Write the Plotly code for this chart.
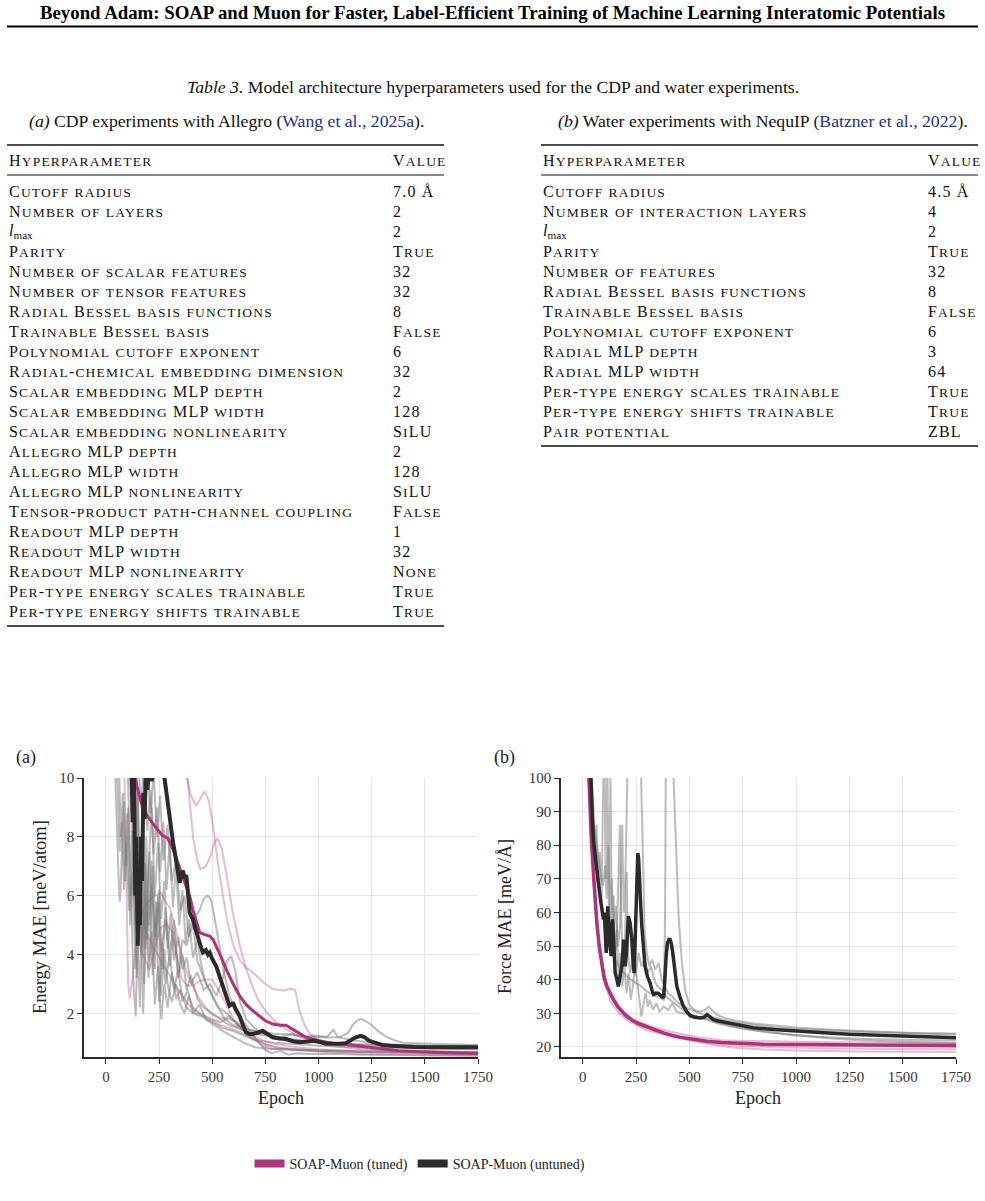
import plotly.graph_objects as go

W, H = 985, 1201
def px(x): return x / W
def py(y): return 1 - y / H

# ---------------- Table data ----------------
tab_a_params = ["Cutoff radius", "Number of layers", "LMAX", "Parity", "Number of scalar features",
                "Number of tensor features", "Radial Bessel basis functions", "Trainable Bessel basis",
                "Polynomial cutoff exponent", "Radial-chemical embedding dimension",
                "Scalar embedding MLP depth", "Scalar embedding MLP width", "Scalar embedding nonlinearity",
                "Allegro MLP depth", "Allegro MLP width", "Allegro MLP nonlinearity",
                "Tensor-product path-channel coupling", "Readout MLP depth", "Readout MLP width",
                "Readout MLP nonlinearity", "Per-type energy scales trainable", "Per-type energy shifts trainable"]
tab_a_values = ["7.0 Å", "2", "2", "True", "32", "32", "8", "False", "6", "32", "2", "128", "SiLU",
                "2", "128", "SiLU", "False", "1", "32", "None", "True", "True"]
tab_b_params = ["Cutoff radius", "Number of interaction layers", "LMAX", "Parity", "Number of features",
                "Radial Bessel basis functions", "Trainable Bessel basis", "Polynomial cutoff exponent",
                "Radial MLP depth", "Radial MLP width", "Per-type energy scales trainable",
                "Per-type energy shifts trainable", "Pair potential"]
tab_b_values = ["4.5 Å", "4", "2", "True", "32", "8", "False", "6", "3", "64", "True", "True", "ZBL"]

# ---------------- Chart (a): Energy MAE [meV/atom] vs epoch ----------------
a_tuned = [(125, 11), (135, 10.2), (145, 9.75), (165, 9.2), (190, 8.76), (215, 8.5), (237, 8.3), (265, 8.05),
           (292, 7.95), (316, 7.57), (335, 7.2), (355, 6.78), (375, 6.4), (394, 5.99), (410, 5.5), (425, 5.1),
           (441, 4.75), (465, 4.68), (488, 4.63), (505, 4.5), (519, 4.29), (540, 3.95), (566, 3.5), (595, 3.05),
           (628, 2.6), (660, 2.3), (690, 2.1), (722, 1.92), (750, 1.75), (784, 1.64), (820, 1.6), (847, 1.6),
           (870, 1.5), (894, 1.41), (920, 1.28), (941, 1.19), (1000, 1.07), (1066, 0.99), (1150, 0.93),
           (1222, 0.88), (1300, 0.8), (1378, 0.73), (1450, 0.7), (1534, 0.68), (1650, 0.66), (1750, 0.64)]
a_untuned = [(118, 11), (126, 8.5), (132, 10.0), (138, 6.0), (142, 8.0), (146, 4.5), (150, 4.3), (155, 6.5),
             (160, 5.0), (165, 8.0), (170, 6.5), (176, 9.5), (182, 8.6), (188, 10.2), (195, 9.6), (205, 10.5),
             (215, 9.9), (230, 10.3), (250, 10.6), (270, 10.3),
             (284, 9.5), (292, 8.9), (300, 8.47), (308, 8.1), (316, 7.8), (328, 7.3), (339, 6.9), (347, 6.44),
             (355, 6.7), (362, 6.85), (370, 6.6), (378, 6.7), (386, 6.1), (394, 5.42), (402, 5.3), (409, 5.2),
             (418, 4.95), (425, 4.75), (433, 4.63), (445, 4.3), (456, 4.07), (470, 4.15), (480, 4.0), (488, 4.07),
             (500, 3.85), (519, 3.6), (535, 3.25), (550, 2.94), (565, 2.6), (581, 2.26), (590, 2.3), (597, 2.37),
             (610, 2.15), (628, 1.92), (645, 1.6), (659, 1.36), (675, 1.3), (691, 1.3), (715, 1.35), (737, 1.41),
             (760, 1.3), (784, 1.19), (815, 1.15), (847, 1.13), (880, 1.05), (909, 1.02), (950, 1.05), (988, 1.07),
             (1030, 0.98), (1066, 0.96), (1100, 0.97), (1128, 0.99), (1150, 1.08), (1175, 1.19), (1198, 1.24),
             (1215, 1.2), (1238, 1.07), (1270, 0.98), (1300, 0.93), (1340, 0.9), (1378, 0.88), (1450, 0.86),
             (1534, 0.85), (1650, 0.85), (1750, 0.85)]
a_pink1 = [(360, 11), (380, 10.0), (400, 9.4), (425, 9.05), (445, 9.3), (465, 9.55), (485, 9.2), (505, 8.3),
           (525, 7.2), (550, 6.0), (575, 5.0), (600, 4.3), (630, 3.8), (660, 3.55), (690, 3.4), (720, 3.2),
           (750, 3.0), (780, 2.85), (810, 2.8), (840, 2.78), (870, 2.85), (890, 2.8), (910, 2.1), (935, 1.6),
           (960, 1.3), (1000, 1.1), (1100, 0.92), (1250, 0.8), (1400, 0.74), (1600, 0.7), (1750, 0.68)]
a_pink2 = [(375, 11), (390, 9.5), (410, 8.0), (430, 7.2), (445, 6.9), (470, 7.0), (490, 7.3), (510, 7.8),
           (525, 7.95), (545, 7.6), (570, 6.6), (600, 5.3), (630, 4.3), (660, 3.5), (690, 2.9), (720, 2.4),
           (760, 2.0), (800, 1.7), (850, 1.45), (900, 1.25), (950, 1.1), (1050, 0.9), (1200, 0.78), (1400, 0.72),
           (1750, 0.66)]
a_pink3 = [(85, 11), (95, 6.5), (105, 3.0), (112, 2.5), (125, 3.2), (145, 4.5), (170, 5.5), (200, 5.8),
           (230, 6.0), (260, 6.1), (280, 5.8), (300, 5.6), (320, 5.1), (350, 4.2), (380, 3.4), (410, 2.9),
           (440, 2.5), (470, 2.2), (500, 1.95), (540, 1.85), (580, 1.8), (620, 1.7), (660, 1.4), (700, 1.2),
           (750, 1.05), (800, 0.95), (900, 0.85), (1000, 0.78), (1200, 0.7), (1500, 0.65), (1750, 0.62)]
a_pink4 = [(110, 11), (125, 7.5), (140, 5.0), (160, 4.2), (180, 3.9), (205, 3.5), (230, 4.2), (255, 4.9),
           (285, 5.05), (310, 4.8), (335, 3.9), (355, 3.2), (380, 2.95), (410, 2.95), (440, 3.1), (470, 3.15),
           (500, 3.15), (530, 2.8), (560, 2.4), (600, 1.8), (640, 1.5), (690, 1.2), (750, 0.95), (820, 0.82),
           (900, 0.75), (1000, 0.7), (1200, 0.62), (1500, 0.57), (1750, 0.55)]
a_pink5 = [(140, 11), (150, 8.0), (165, 6.0), (180, 5.0), (200, 4.6), (220, 4.3), (245, 4.0), (270, 3.6),
           (300, 3.3), (330, 2.9), (360, 2.6), (390, 2.3), (420, 2.05), (460, 1.9), (500, 1.75), (540, 1.6),
           (580, 1.5), (620, 1.4), (660, 1.25), (700, 1.1), (750, 0.95), (800, 0.85), (900, 0.78), (1000, 0.73),
           (1200, 0.68), (1500, 0.64), (1750, 0.62)]
a_gray1 = [(45, 11), (55, 9.8), (65, 7.5), (75, 8.5), (85, 6.2), (95, 7.8), (110, 5.5), (125, 6.8), (140, 3.5),
           (155, 6.0), (170, 4.2), (185, 7.1), (200, 5.0), (215, 6.4), (230, 4.6), (245, 5.8), (260, 4.1),
           (280, 5.2), (300, 3.6), (320, 4.8), (340, 3.2), (360, 4.0), (380, 2.8), (400, 3.3), (430, 2.5),
           (460, 2.2), (500, 2.0), (540, 1.8), (580, 1.6), (620, 1.5), (660, 1.45), (700, 1.4), (750, 1.35),
           (800, 1.3), (850, 1.3), (900, 1.25), (950, 1.2), (1000, 1.2), (1050, 1.18), (1100, 1.2), (1140, 1.35),
           (1160, 1.6), (1180, 1.75), (1200, 1.82), (1220, 1.75), (1250, 1.6), (1280, 1.4), (1320, 1.2),
           (1360, 1.08), (1400, 1.0), (1500, 0.97), (1600, 0.95), (1750, 0.93)]
a_gray2 = [(60, 11), (70, 8.0), (80, 9.5), (90, 6.5), (100, 8.8), (115, 5.0), (130, 7.5), (145, 3.2), (160, 6.8),
           (175, 2.0), (190, 5.5), (205, 3.8), (220, 7.0), (235, 4.5), (250, 6.2), (265, 3.5), (280, 5.6),
           (300, 4.0), (320, 5.2), (340, 3.4), (360, 4.5), (380, 4.3), (400, 5.0), (420, 5.3), (440, 5.5),
           (460, 5.9), (480, 6.0), (495, 5.85), (510, 5.3), (530, 4.5), (555, 3.4), (580, 2.6), (610, 2.1),
           (640, 1.8), (680, 1.4), (720, 1.0), (750, 0.75), (780, 0.65), (820, 0.72), (860, 0.6), (900, 0.65),
           (950, 0.62), (1050, 0.63), (1200, 0.6), (1400, 0.6), (1750, 0.58)]
a_gray3 = [(100, 11), (110, 8.5), (120, 6.0), (130, 3.0), (140, 1.9), (150, 4.5), (160, 2.2), (170, 6.5),
           (180, 3.0), (190, 8.0), (200, 4.8), (215, 7.2), (230, 3.5), (245, 6.0), (260, 2.6), (275, 4.2),
           (290, 3.0), (310, 2.4), (330, 3.0), (350, 2.3), (370, 2.0), (390, 2.6), (410, 2.2), (440, 2.0),
           (470, 1.9), (500, 1.8), (540, 1.7), (580, 1.9), (620, 1.6), (660, 1.3), (700, 1.1), (740, 0.9),
           (780, 0.8), (830, 0.78), (900, 0.75), (1000, 0.72), (1200, 0.7), (1500, 0.68), (1750, 0.67)]
a_gray4 = [(120, 11), (130, 9.0), (140, 7.0), (150, 9.5), (160, 5.5), (170, 8.0), (185, 4.2), (200, 6.8),
           (215, 9.0), (230, 6.0), (245, 7.8), (260, 5.2), (275, 6.5), (290, 4.2), (305, 5.4), (320, 3.8),
           (340, 4.6), (360, 3.5), (380, 3.9), (400, 3.0), (430, 3.4), (460, 2.8), (490, 3.0), (520, 2.6),
           (550, 3.2), (570, 3.8), (590, 3.95), (610, 3.4), (630, 2.4), (660, 1.8), (700, 1.5), (750, 1.3),
           (800, 1.2), (850, 1.15), (900, 1.1), (1000, 1.0), (1100, 0.95), (1300, 0.9), (1500, 0.88), (1750, 0.86)]
a_gray5 = [(40, 11), (50, 8.5), (60, 6.5), (66, 5.8), (75, 7.5), (85, 9.2), (95, 7.0), (105, 9.0), (115, 6.0),
           (125, 8.2), (140, 5.0), (155, 7.4), (170, 4.0), (185, 6.0), (200, 3.2), (215, 4.8), (230, 2.3),
           (245, 3.6), (260, 1.8), (275, 3.0), (290, 2.2), (310, 3.4), (330, 2.5), (350, 2.8), (380, 2.2),
           (410, 2.0), (450, 1.9), (500, 1.7), (550, 1.5), (600, 1.4), (650, 1.25), (700, 1.1), (800, 1.0),
           (900, 0.95), (1000, 0.9), (1200, 0.85), (1500, 0.8), (1750, 0.78)]
a_gray6 = [(150, 11), (165, 9.0), (180, 10.5), (195, 8.2), (210, 9.6), (225, 7.4), (240, 9.0), (255, 6.8),
           (270, 8.5), (285, 6.2), (300, 7.8), (315, 5.6), (330, 7.0), (345, 5.0), (360, 6.2), (375, 4.4),
           (390, 5.2), (410, 3.9), (430, 4.5), (450, 3.6), (470, 3.0), (500, 2.6), (530, 2.2), (570, 2.0),
           (610, 1.7), (650, 1.4), (700, 1.3), (760, 1.25), (820, 1.2), (880, 1.3), (920, 1.2), (980, 1.25),
           (1040, 1.2), (1070, 1.45), (1090, 1.2), (1150, 1.1), (1300, 0.95), (1500, 0.9), (1750, 0.88)]
a_gray7 = [(130, 11), (140, 8.0), (150, 9.6), (160, 6.0), (175, 8.6), (190, 4.5), (205, 7.5), (220, 3.3),
           (235, 5.8), (250, 2.4), (265, 4.4), (280, 3.0), (300, 4.0), (320, 2.8), (340, 3.5), (360, 2.4),
           (385, 2.8), (410, 2.0), (440, 2.3), (470, 1.8), (510, 1.6), (550, 1.4), (600, 1.2), (650, 1.0),
           (700, 0.85), (760, 0.8), (850, 0.78), (1000, 0.75), (1300, 0.72), (1750, 0.7)]
a_gray8 = [(170, 11), (180, 9.5), (195, 10.5), (210, 8.8), (225, 10.2), (240, 8.0), (255, 9.4), (270, 7.2),
           (290, 8.4), (310, 6.5), (330, 7.2), (350, 5.5), (370, 6.0), (390, 4.6), (410, 5.0), (430, 3.8),
           (460, 3.2), (490, 2.8), (520, 2.3), (560, 1.8), (600, 1.6), (650, 1.5), (700, 1.4), (800, 1.2),
           (900, 1.1), (1000, 1.0), (1200, 0.95), (1500, 0.9), (1750, 0.9)]

# ---------------- Chart (b): Force MAE [meV/Å] vs epoch ----------------
b_tuned = [(20, 115), (30, 97), (40, 82), (50, 72), (58, 64), (66, 57), (77, 50), (89, 44), (100, 40.5),
           (113, 38), (128, 36), (144, 34.1), (165, 32), (191, 30.1), (215, 28.8), (238, 27.7), (270, 26.8),
           (300, 26), (340, 25.1), (379, 24.2), (420, 23.4), (472, 22.7), (530, 22.1), (582, 21.7), (650, 21.3),
           (738, 21.0), (850, 20.8), (973, 20.7), (1100, 20.65), (1286, 20.6), (1500, 20.5), (1750, 20.4)]
b_untuned = [(30, 115), (38, 98), (45, 88), (50, 81.7), (60, 75), (73, 68.8), (85, 63), (97, 57.9), (101, 60),
             (105, 53.9), (110, 48), (113, 51), (117, 61.8), (122, 55), (128, 50), (133, 47), (138, 58),
             (141, 56.9), (146, 50), (152, 42), (160, 40), (167, 38), (175, 41), (183, 44), (188, 48),
             (191, 51.9), (195, 50), (199, 44), (205, 48), (210, 55), (214, 58.9), (222, 56.9), (230, 52),
             (236, 45), (241, 42), (245, 50), (249, 61.8), (254, 72), (258, 77.7), (262, 76), (266, 71.8),
             (271, 63), (277, 55.9), (285, 49), (292, 44), (303, 41), (316, 39), (324, 37), (332, 35.6),
             (344, 36), (355, 35.9), (367, 35.2), (379, 34.6), (383, 38), (386, 42), (391, 47), (397, 50.9),
             (404, 52), (410, 51.9), (416, 50.5), (422, 48), (430, 43), (441, 38), (455, 35), (472, 32.1),
             (488, 30.5), (504, 29.3), (525, 28.8), (551, 28.6), (570, 28.8), (582, 29.6), (595, 29.0),
             (613, 28.1), (635, 27.7), (660, 27.4), (700, 26.8), (738, 26.2), (800, 25.7), (895, 25.2),
             (1000, 24.7), (1130, 24.2), (1250, 23.8), (1364, 23.5), (1480, 23.2), (1599, 23.0), (1750, 22.7)]
b_pink1 = [(20, 112), (35, 90), (50, 68), (60, 62), (75, 52), (100, 42), (130, 35), (170, 31), (220, 28.5),
           (280, 27), (350, 25.5), (450, 24), (550, 22.8), (650, 22), (800, 21.7), (1000, 21.5), (1300, 21.3),
           (1750, 21.2)]
b_pink2 = [(20, 110), (35, 88), (50, 70), (70, 54), (95, 43), (125, 36), (160, 32), (200, 29), (250, 27),
           (320, 25.2), (400, 23.5), (500, 22.2), (600, 20.8), (700, 19.8), (850, 19.2), (1000, 18.9),
           (1300, 18.6), (1750, 18.5)]
b_pink3 = [(20, 108), (40, 82), (55, 65), (75, 50), (100, 40), (130, 33.5), (170, 30), (220, 27.5), (300, 25),
           (400, 23.3), (500, 22), (620, 21), (750, 20.3), (900, 19.9), (1200, 19.5), (1750, 19.3)]
b_pink4 = [(25, 105), (40, 80), (60, 60), (80, 48), (110, 39), (150, 33), (200, 29), (260, 26.5), (340, 24.7),
           (440, 23), (560, 21.8), (700, 21.2), (900, 20.8), (1200, 20.4), (1750, 20.0)]
b_gray1 = [(30, 112), (45, 92), (60, 78), (75, 70), (90, 62), (105, 57), (120, 52), (135, 49), (150, 46),
           (165, 44.5), (180, 43), (200, 41.5), (225, 40), (250, 39), (275, 38), (300, 36.5), (330, 35.5),
           (360, 34.5), (380, 34), (386, 60), (390, 110), (420, 110), (428, 95), (438, 75), (450, 58), (465, 45),
           (480, 37), (500, 32.5), (530, 30.5), (570, 29.5), (610, 28.8), (660, 28.0), (720, 27.2), (800, 26.5),
           (900, 25.8), (1000, 25.3), (1150, 24.8), (1300, 24.5), (1500, 24.2), (1750, 24.0)]
b_gray2 = [(35, 110), (45, 95), (55, 85), (65, 80), (75, 75), (85, 71), (95, 68), (105, 74), (112, 64),
           (120, 80), (128, 58), (136, 70), (145, 55), (155, 62), (165, 50), (175, 56), (185, 86), (192, 60),
           (200, 70), (207, 95), (212, 110), (270, 110), (276, 90), (282, 70), (290, 55), (300, 48), (312, 44),
           (325, 46), (340, 43), (355, 45), (370, 40), (385, 38), (400, 36), (420, 35), (440, 33.5), (460, 32.5),
           (490, 31.5), (520, 31), (550, 30.5), (575, 31), (590, 32), (605, 31), (630, 29.5), (670, 28.5),
           (720, 27.8), (800, 27.0), (900, 26.3), (1000, 25.8), (1200, 25.0), (1400, 24.4), (1600, 23.9),
           (1750, 23.7)]
b_gray3 = [(35, 105), (45, 90), (55, 80), (65, 86), (72, 70), (80, 78), (88, 62), (95, 95), (100, 110), (108, 70),
           (115, 110), (122, 60), (130, 100), (137, 52), (145, 65), (152, 45), (160, 55), (168, 40), (176, 48),
           (185, 38), (195, 44), (205, 36), (215, 42), (225, 34), (235, 38), (245, 45), (255, 40), (265, 35),
           (275, 29), (285, 33), (295, 36), (305, 32), (315, 34), (330, 31), (345, 33), (360, 30.5), (380, 32),
           (400, 31), (420, 33), (440, 30.5), (470, 30), (500, 29.5), (540, 29), (580, 28.5), (620, 27.5),
           (680, 26.5), (750, 25.5), (850, 24.5), (950, 23.8), (1100, 23.0), (1300, 22.4), (1500, 22.1),
           (1750, 21.9)]
b_gray4 = [(30, 108), (40, 95), (50, 84), (60, 76), (70, 70), (82, 64), (95, 59), (108, 55), (120, 52),
           (132, 49), (145, 47), (158, 50), (168, 70), (174, 86), (180, 60), (188, 45), (198, 52), (206, 72),
           (212, 48), (222, 42), (235, 46), (248, 41), (262, 48), (275, 44), (290, 46), (305, 42), (320, 44),
           (335, 40), (350, 38), (370, 37), (390, 35), (410, 34), (430, 33), (455, 31.5), (480, 30.5), (510, 29.5),
           (550, 28.8), (590, 28), (630, 27), (700, 26), (800, 25), (900, 24.2), (1000, 23.5), (1150, 22.6),
           (1300, 22.0), (1500, 21.5), (1750, 21.2)]

x_ticks = [0, 250, 500, 750, 1000, 1250, 1500, 1750]
a_yticks = [2, 4, 6, 8, 10]
b_yticks = [20, 30, 40, 50, 60, 70, 80, 90, 100]

TUNED = "#B1327A"
UNTUNED = "#2B2B2B"
PINK = "rgba(177,50,122,0.33)"
GRAY = "rgba(120,120,120,0.5)"
SERIF = "Liberation Serif"

fig = go.Figure()

def add(run, color, width, xa, ya):
    fig.add_trace(go.Scatter(x=[p[0] for p in run], y=[p[1] for p in run], mode="lines",
                             line=dict(color=color, width=width), xaxis=xa, yaxis=ya,
                             showlegend=False, hoverinfo="skip"))

for run in [a_pink1, a_pink2, a_pink3, a_pink4, a_pink5]:
    add(run, PINK, 2, "x", "y")
for run in [a_gray1, a_gray2, a_gray3, a_gray4, a_gray5, a_gray6, a_gray7, a_gray8]:
    add(run, GRAY, 2, "x", "y")
add(a_tuned, TUNED, 3, "x", "y")
add(a_untuned, UNTUNED, 4, "x", "y")

for run in [b_pink1, b_pink2, b_pink3, b_pink4]:
    add(run, PINK, 2, "x2", "y2")
for run in [b_gray1, b_gray2, b_gray3, b_gray4]:
    add(run, GRAY, 2, "x2", "y2")
add(b_tuned, TUNED, 3.5, "x2", "y2")
add(b_untuned, UNTUNED, 3.5, "x2", "y2")

# legend entries
fig.add_trace(go.Scatter(x=[None], y=[None], mode="lines", line=dict(color=TUNED, width=8),
                         name="SOAP-Muon (tuned)", xaxis="x", yaxis="y"))
fig.add_trace(go.Scatter(x=[None], y=[None], mode="lines", line=dict(color=UNTUNED, width=8),
                         name="SOAP-Muon (untuned)", xaxis="x", yaxis="y"))

axis_common = dict(showgrid=True, gridcolor="#e4e4e4", gridwidth=1, showline=True, linecolor="#2a2a2a",
                   linewidth=1.5, ticks="outside", ticklen=5, tickwidth=1.2, tickcolor="#2a2a2a",
                   zeroline=False, automargin=False, tickfont=dict(family=SERIF, size=15, color="#333"))

top_y, bot_y = 778, 1057
fig.update_layout(
    width=W, height=H, margin=dict(l=0, r=0, t=0, b=0, pad=0, autoexpand=False),
    paper_bgcolor="white", plot_bgcolor="white",
    font=dict(family=SERIF, color="#111"),
    xaxis=dict(domain=[px(84), px(478)], range=[-103, 1750], tickvals=x_ticks, anchor="y", **axis_common),
    yaxis=dict(domain=[py(bot_y), py(top_y)], range=[0.52, 10], tickvals=a_yticks, anchor="x", **axis_common),
    xaxis2=dict(domain=[px(561), px(956)], range=[-102, 1750], tickvals=x_ticks, anchor="y2", **axis_common),
    yaxis2=dict(domain=[py(bot_y), py(top_y)], range=[17, 100], tickvals=b_yticks, anchor="x2", **axis_common),
    legend=dict(orientation="h", x=px(420), xanchor="center", y=py(1164), yanchor="middle",
                font=dict(family=SERIF, size=14, color="#222"), itemwidth=30, bgcolor="rgba(0,0,0,0)"),
)

ann = []
def text(x, y, s, size=16, anchor="left", color="#111", angle=0):
    ann.append(dict(x=px(x), y=py(y), xref="paper", yref="paper", text=s, showarrow=False,
                    xanchor=anchor, yanchor="middle", textangle=angle,
                    font=dict(family=SERIF, size=size, color=color)))

def smallcaps(s, big=16, small=13.5, ls=1.2):
    runs, cur, cur_small = [], "", None
    for ch in s:
        is_small = ch.islower()
        if cur and is_small != cur_small:
            runs.append((cur, cur_small))
            cur = ""
        cur += ch
        cur_small = is_small
    if cur:
        runs.append((cur, cur_small))
    out = ""
    for t, sm in runs:
        out += f"<span style='font-size:{small if sm else big}px;letter-spacing:{ls}px'>{t.upper()}</span>"
    return out

# page header
text(492.5, 13, "<b>Beyond Adam: SOAP and Muon for Faster, Label-Efficient Training of Machine Learning Interatomic Potentials</b>",
     size=18.8, anchor="center", color="#000")
text(492.5, 87, "<i>Table 3.</i> Model architecture hyperparameters used for the CDP and water experiments.",
     size=17.7, anchor="center")
CITE = "#23308C"
text(226, 121, f"<i>(a)</i> CDP experiments with Allegro (<span style='color:{CITE}'>Wang et al., 2025a</span>).",
     size=17.7, anchor="center")
text(763, 121, f"<i>(b)</i> Water experiments with NequIP (<span style='color:{CITE}'>Batzner et al., 2022</span>).",
     size=17.7, anchor="center")

def table(x0, x1, xval, params, values, bottom):
    text(x0, 160.5, smallcaps("Hyperparameter"))
    text(xval, 160.5, smallcaps("Value"))
    for i, (p, v) in enumerate(zip(params, values)):
        yy = 191.5 + 19.98 * i
        if p == "LMAX":
            text(x0, yy, "<i>l</i><sub>max</sub>")
        else:
            text(x0, yy, smallcaps(p))
        text(xval, yy, smallcaps(v))
    return [dict(type="line", xref="paper", yref="paper", x0=px(x0), x1=px(x1), y0=py(145), y1=py(145),
                 line=dict(color="#111", width=1.6)),
            dict(type="line", xref="paper", yref="paper", x0=px(x0), x1=px(x1), y0=py(175), y1=py(175),
                 line=dict(color="#111", width=1)),
            dict(type="line", xref="paper", yref="paper", x0=px(x0), x1=px(x1), y0=py(bottom), y1=py(bottom),
                 line=dict(color="#111", width=1.6))]

shapes = [dict(type="line", xref="paper", yref="paper", x0=px(7), x1=px(978), y0=py(26.5), y1=py(26.5),
               line=dict(color="#000", width=2))]
shapes += table(7, 444, 391, tab_a_params, tab_a_values, 626)
shapes += table(541, 978, 926, tab_b_params, tab_b_values, 446)

# chart labels
text(26, 757, "(a)", size=18, anchor="center", color="#222")
text(504, 757, "(b)", size=18, anchor="center", color="#222")
text(40, 917, "Energy MAE [meV/atom]", size=18.5, anchor="center", color="#222", angle=-90)
text(505, 917, "Force MAE [meV/Å]", size=18, anchor="center", color="#222", angle=-90)
text(281, 1098, "Epoch", size=18, anchor="center", color="#222")
text(758, 1098, "Epoch", size=18, anchor="center", color="#222")

fig.update_layout(annotations=ann, shapes=shapes)
fig.write_html("out.html", config={"displayModeBar": False},
               post_script="document.body.style.margin='0';document.body.style.padding='0';")
